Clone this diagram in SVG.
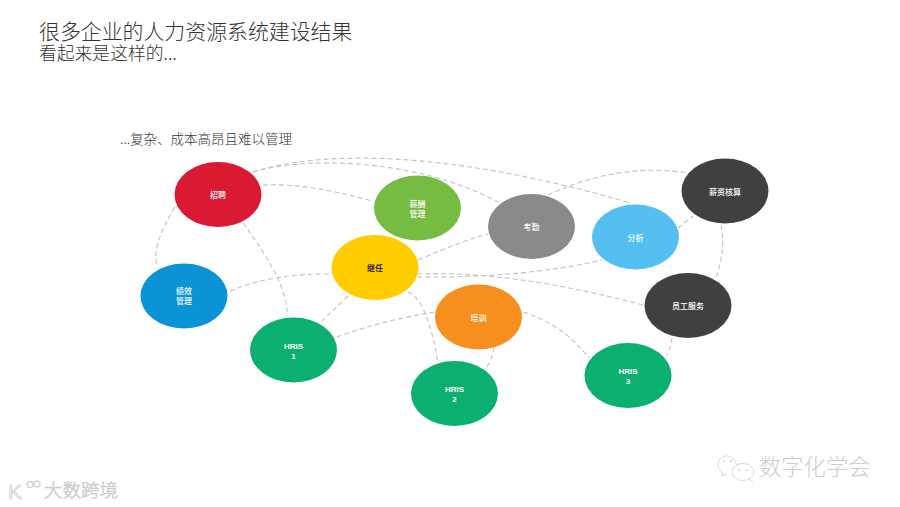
<svg xmlns="http://www.w3.org/2000/svg" width="900" height="507" viewBox="0 0 900 507">
<style>
text{font-family:"Noto Sans CJK SC","Liberation Sans",sans-serif}
.t{fill:#333;font-weight:300}
.c path{fill:none;stroke:#c2c2c2;stroke-width:1.100;stroke-dasharray:5 3}
.n ellipse{stroke:none}
.n text{fill:#fff;font-size:8px;text-anchor:middle;font-weight:500}
.n text.e{font-family:"Liberation Sans",sans-serif;font-weight:700}
.w{fill:#f2f2f2;stroke:#c8c8c8;stroke-width:.6}
.b{fill:none;stroke:#d8d8d8;stroke-width:1}
.d{fill:#cfcfcf}
</style>
<rect width="900" height="507" fill="#fff"/>
<text class="t" x="39" y="39" font-size="20.900">很多企业的人力资源系统建设结果</text>
<text class="t" x="39" y="60" font-size="17.800">看起来是这样的...</text>
<text class="t" x="120" y="143.500" font-size="13.500">...复杂、成本高昂且难以管理</text>
<g class="c" id="connectors">
<path d="M253 172C320 150 450 150 630 203"/>
<path d="M253 172C310 155 420 160 498 202"/>
<path d="M263 185Q308 183 372 201"/>
<path d="M243 223Q289 285 287 315"/>
<path d="M175 207Q151 246 157 265"/>
<path d="M230 291Q273 273 332 274"/>
<path d="M418 260Q467 239 488 234"/>
<path d="M417 277Q524 278 602 260"/>
<path d="M417 274Q510 270 643 305"/>
<path d="M548 195C590 175 640 165 687 173"/>
<path d="M678 228L693 216"/>
<path d="M721 225Q726 249 716 278"/>
<path d="M348 296L322 321"/>
<path d="M408 292Q427 299 438 362"/>
<path d="M337 337Q380 321 435 312"/>
<path d="M494 347Q492 360 486 368"/>
<path d="M523 312Q564 325 589 358"/>
<path d="M672 338Q671 347 667 355"/>
</g>
<g class="n" id="n-zhaopin"><ellipse cx="218" cy="194.500" rx="43.500" ry="32.500" fill="#DA1A32"/><text x="218" y="198">招聘</text></g>
<g class="n" id="n-xinchou"><ellipse cx="417.500" cy="208" rx="43.500" ry="32.500" fill="#76BC43"/><text x="417.500" y="207">薪酬</text><text x="417.500" y="217">管理</text></g>
<g class="n" id="n-jiren"><ellipse cx="375" cy="267.500" rx="43.500" ry="32.500" fill="#FFCC00"/><text x="375" y="271" style="fill:#000">继任</text></g>
<g class="n" id="n-kaoqin"><ellipse cx="531.500" cy="226.500" rx="43.500" ry="32.500" fill="#8A8A8A"/><text x="531.500" y="230">考勤</text></g>
<g class="n" id="n-fenxi"><ellipse cx="635.500" cy="237" rx="43.500" ry="32.500" fill="#55BFF2"/><text x="635.500" y="240.500">分析</text></g>
<g class="n" id="n-xinzi"><ellipse cx="725" cy="191" rx="43.500" ry="32.500" fill="#404040"/><text x="725" y="194.500">薪资核算</text></g>
<g class="n" id="n-jixiao"><ellipse cx="184" cy="296" rx="43.500" ry="32.500" fill="#0A94D6"/><text x="184" y="294">绩效</text><text x="184" y="304">管理</text></g>
<g class="n" id="n-hris1"><ellipse cx="293.500" cy="350" rx="43.500" ry="32.500" fill="#0BB070"/><text class="e" x="293.500" y="348.500">HRIS</text><text class="e" x="293.500" y="358.500">1</text></g>
<g class="n" id="n-peixun"><ellipse cx="478.500" cy="317" rx="43.500" ry="32.500" fill="#F68F1E"/><text x="478.500" y="320.500">培训</text></g>
<g class="n" id="n-hris2"><ellipse cx="454.500" cy="393.500" rx="43.500" ry="32.500" fill="#0BB070"/><text class="e" x="454.500" y="391.500">HRIS</text><text class="e" x="454.500" y="401.500">2</text></g>
<g class="n" id="n-yuangong"><ellipse cx="688" cy="305.500" rx="43.500" ry="32.500" fill="#404040"/><text x="688" y="309">员工服务</text></g>
<g class="n" id="n-hris3"><ellipse cx="628" cy="375.500" rx="43.500" ry="32.500" fill="#0BB070"/><text class="e" x="628" y="373.500">HRIS</text><text class="e" x="628" y="383.500">3</text></g>
<text class="w" x="8" y="499" font-size="21" style="font-family:'Liberation Sans',sans-serif">K</text>
<circle cx="30" cy="484.500" r="3" fill="none" stroke="#d5d5d5" stroke-width="1.500"/>
<circle cx="37" cy="484" r="3" fill="none" stroke="#d5d5d5" stroke-width="1.500"/>
<text class="w" x="44" y="497" font-size="18.500" font-weight="300">大数跨境</text>
<path class="b" d="M737 466C736 460 730 456 727 456C722 456 718 460 718 465C718 469 720 471 723 473L722 476L727 474"/>
<ellipse class="b" cx="743" cy="472" rx="11" ry="8.500"/>
<path class="b" d="M749 479L753 482"/>
<circle class="d" cx="724" cy="461" r="1"/><circle class="d" cx="731" cy="461" r="1"/>
<circle class="d" cx="739" cy="470" r="1"/><circle class="d" cx="747" cy="470" r="1"/>
<text x="759" y="475" font-size="22.300" font-weight="300" fill="#cdcdcd">数字化学会</text>
</svg>
